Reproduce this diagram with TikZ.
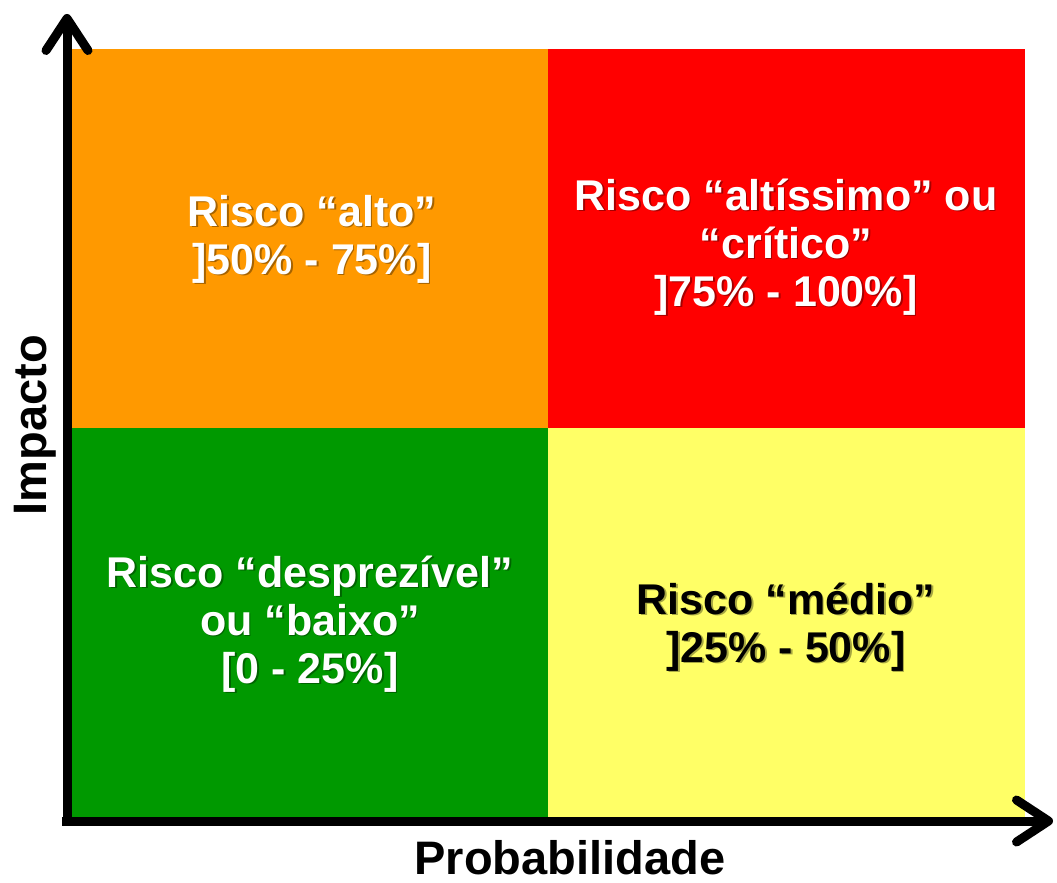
\documentclass[tikz,border=0pt]{standalone}
\usepackage{fontspec}
\setmainfont{Liberation Sans}
\usetikzlibrary{arrows.meta}

\definecolor{altocol}{HTML}{FF9900}
\definecolor{criticocol}{HTML}{FF0000}
\definecolor{baixocol}{HTML}{009900}
\definecolor{mediocol}{HTML}{FFFF66}

\def \midx {548}
\def \midy {428}

\tikzstyle{risktext}=[align=center, inner sep=0pt, font=\bfseries\fontsize{43}{48}\selectfont]
\tikzstyle{riskshadow}=[risktext, black, opacity=0.35, xshift=1.6pt, yshift=-1.6pt]
\tikzstyle{axislabel}=[inner sep=0pt, font=\bfseries\fontsize{47}{56}\selectfont]
\tikzstyle{axis}=[line width=9pt, -{Straight Barb[length=32pt, width=42pt, line cap=round, line join=round]}]

\begin{document}
\begin{tikzpicture}[x=1pt, y=-1pt]
\useasboundingbox (0,0) rectangle (1057,883);

\fill[altocol] (72,49) rectangle (\midx,\midy);
\fill[criticocol] (\midx,49) rectangle (1025,\midy);
\fill[baixocol] (72,\midy) rectangle (\midx,817);
\fill[mediocol] (\midx,\midy) rectangle (1025,817);

\foreach \name/\x/\y/\col/\txt in {
    alto/312/239/white/{Risco “alto”\\{]}50\% - 75\%{]}},
    critico/786/247/white/{Risco “altíssimo” ou\\“crítico”\\{]}75\% - 100\%{]}},
    baixo/310/624/white/{Risco “desprezível”\\ou “baixo”\\{[}0 - 25\%{]}},
    medio/786/627/black/{Risco “médio”\\{]}25\% - 50\%{]}}} {
    \node[riskshadow] at (\x,\y) {\txt};
    \node[risktext, text=\col] (\name) at (\x,\y) {\txt};
}

% axes
\coordinate (origin) at (67,821);
\coordinate (ytip) at (67,14);
\coordinate (xtip) at (1053,821);
\draw[axis] ([yshift=-5pt]origin) -- (ytip);
\draw[axis] ([xshift=-5pt]origin) -- (xtip);

\node[axislabel, rotate=90] (impacto) at (35,425) {Impacto};
\node[axislabel] (prob) at (570,858) {Probabilidade};

\end{tikzpicture}
\end{document}
